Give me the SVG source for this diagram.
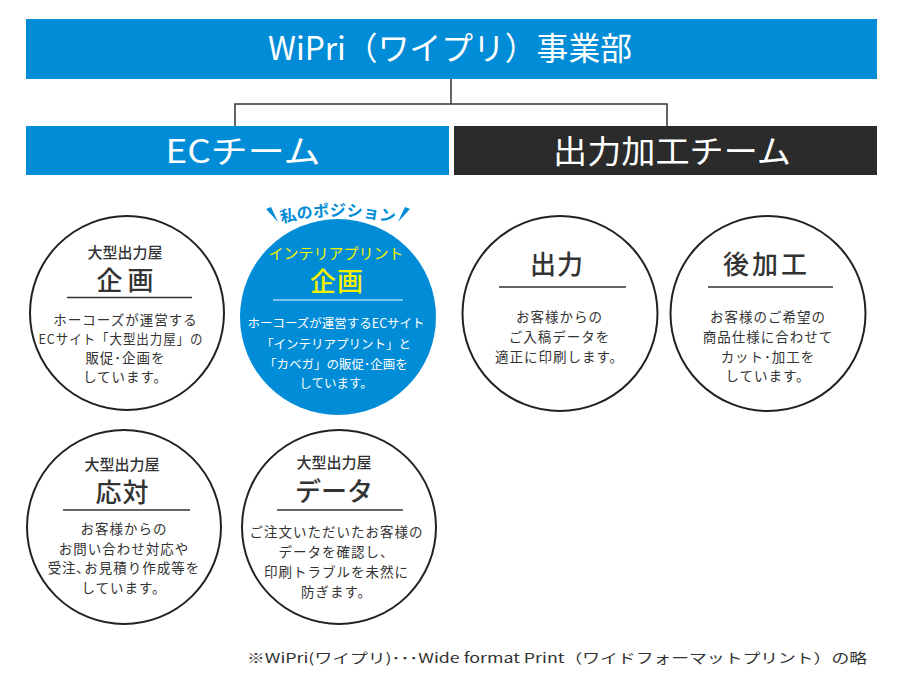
<svg xmlns="http://www.w3.org/2000/svg" width="900" height="689" viewBox="0 0 900 689">
<defs>
<style>
text{font-family:"Noto Sans CJK JP","Noto Sans",sans-serif;}
.hd{fill:#fff;font-size:32px;text-anchor:middle;}
.sub{font-size:15px;font-weight:500;fill:#333;text-anchor:middle;}
.ttl{font-size:26px;font-weight:500;fill:#333;text-anchor:middle;}
.body{font-size:13.5px;fill:#333;text-anchor:middle;letter-spacing:1px;}
.wbody{font-size:12.5px;fill:#fff;text-anchor:middle;}
.ring{fill:#fff;stroke:#222;stroke-width:2;}
.rule{stroke:#333;stroke-width:1.3;}
.conn{fill:none;stroke:#333;stroke-width:1.5;}
</style>
<path id="arc" d="M 218 250.3 A 227 227 0 0 1 458 250.3"/>
</defs>
<rect width="900" height="689" fill="#fff"/>

<g id="connectors">
<path class="conn" d="M451 79 V104 M235 126 V104 H667 V126"/>
</g>

<g id="header">
<rect x="26" y="19" width="851" height="60" fill="#008cd6"/>
<text class="hd" x="450" y="60" textLength="364" lengthAdjust="spacingAndGlyphs">WiPri（ワイプリ）事業部</text>
</g>

<g id="ec-team">
<rect x="26" y="126" width="423" height="49" fill="#008cd6"/>
<text class="hd" x="243" y="163" textLength="155" lengthAdjust="spacingAndGlyphs">ECチーム</text>
</g>

<g id="output-team">
<rect x="454" y="126" width="423" height="49" fill="#2b2b2b"/>
<text class="hd" x="672" y="163" textLength="238" lengthAdjust="spacingAndGlyphs">出力加工チーム</text>
</g>

<g id="node-kikaku">
<circle class="ring" cx="127" cy="313" r="97"/>
<text class="sub" x="125" y="257.5">大型出力屋</text>
<text class="ttl" x="127.5" y="290" letter-spacing="5">企画</text>
<line class="rule" x1="67" y1="297.5" x2="192" y2="297.5"/>
<text class="body" x="125.5" y="325">ホーコーズが運営する</text>
<text class="body" x="121" y="344" letter-spacing="0" textLength="165" lengthAdjust="spacingAndGlyphs">ECサイト「大型出力屋」の</text>
<text class="body" x="125.5" y="363">販促･企画を</text>
<text class="body" x="125.5" y="382">しています。</text>
</g>

<g id="node-interior">
<circle cx="338" cy="317" r="98" fill="#008cd6"/>
<text font-size="16" font-weight="700" fill="#008cd6" letter-spacing="0.3"><textPath href="#arc" startOffset="50%" text-anchor="middle">私のポジション</textPath></text>
<polygon points="266,209 271,207 278,222" fill="#008cd6"/>
<polygon points="405,207 410,209 398,222" fill="#008cd6"/>
<text class="sub" x="336" y="258.5" font-size="14" style="fill:#f5f000;font-weight:400">インテリアプリント</text>
<text class="ttl" x="337" y="291" letter-spacing="1" style="fill:#f5f000">企画</text>
<line x1="273" y1="300" x2="403" y2="300" stroke="#a6d6f3" stroke-width="1.6"/>
<text class="wbody" x="336" y="328">ホーコーズが運営するECサイト</text>
<text class="wbody" x="336" y="349">「インテリアプリント」と</text>
<text class="wbody" x="336" y="369">「カベガ」の販促･企画を</text>
<text class="wbody" x="336" y="388">しています。</text>
</g>

<g id="node-output">
<circle class="ring" cx="560" cy="313.5" r="97.5"/>
<text class="ttl" x="557" y="273.5" letter-spacing="1">出力</text>
<line class="rule" x1="499" y1="287" x2="626" y2="287"/>
<text class="body" x="559.5" y="322" letter-spacing="1.5">お客様からの</text>
<text class="body" x="559.5" y="342" letter-spacing="1.5">ご入稿データを</text>
<text class="body" x="559.5" y="362">適正に印刷します。</text>
</g>

<g id="node-postprocess">
<circle class="ring" cx="768" cy="313.5" r="97.5"/>
<text class="ttl" x="766.5" y="273.5" letter-spacing="3">後加工</text>
<line class="rule" x1="708" y1="287" x2="833" y2="287"/>
<text class="body" x="768" y="322" letter-spacing="1.5">お客様のご希望の</text>
<text class="body" x="768" y="342">商品仕様に合わせて</text>
<text class="body" x="768" y="362">カット･加工を</text>
<text class="body" x="768" y="381">しています。</text>
</g>

<g id="node-taiou">
<circle class="ring" cx="124" cy="527" r="97"/>
<text class="sub" x="122" y="469.5">大型出力屋</text>
<text class="ttl" x="122.5" y="502" letter-spacing="1">応対</text>
<line class="rule" x1="63" y1="510" x2="190" y2="510"/>
<text class="body" x="124" y="534">お客様からの</text>
<text class="body" x="124" y="553.5">お問い合わせ対応や</text>
<text class="body" x="124" y="573">受注､お見積り作成等を</text>
<text class="body" x="124" y="592.5">しています。</text>
</g>

<g id="node-data">
<circle class="ring" cx="339" cy="527" r="97"/>
<text class="sub" x="334" y="467.5">大型出力屋</text>
<text class="ttl" x="334" y="501" font-size="28">データ</text>
<line class="rule" x1="277" y1="510" x2="403" y2="510" stroke-width="1.8"/>
<text class="body" x="336.5" y="537">ご注文いただいたお客様の</text>
<text class="body" x="336.5" y="557">データを確認し、</text>
<text class="body" x="336.5" y="577">印刷トラブルを未然に</text>
<text class="body" x="336.5" y="597">防ぎます。</text>
</g>

<g id="footnote">
<text x="247" y="663" font-size="13.5" fill="#333" textLength="620" lengthAdjust="spacingAndGlyphs">※WiPri(ワイプリ)･･･Wide format Print（ワイドフォーマットプリント）の略</text>
</g>
</svg>
